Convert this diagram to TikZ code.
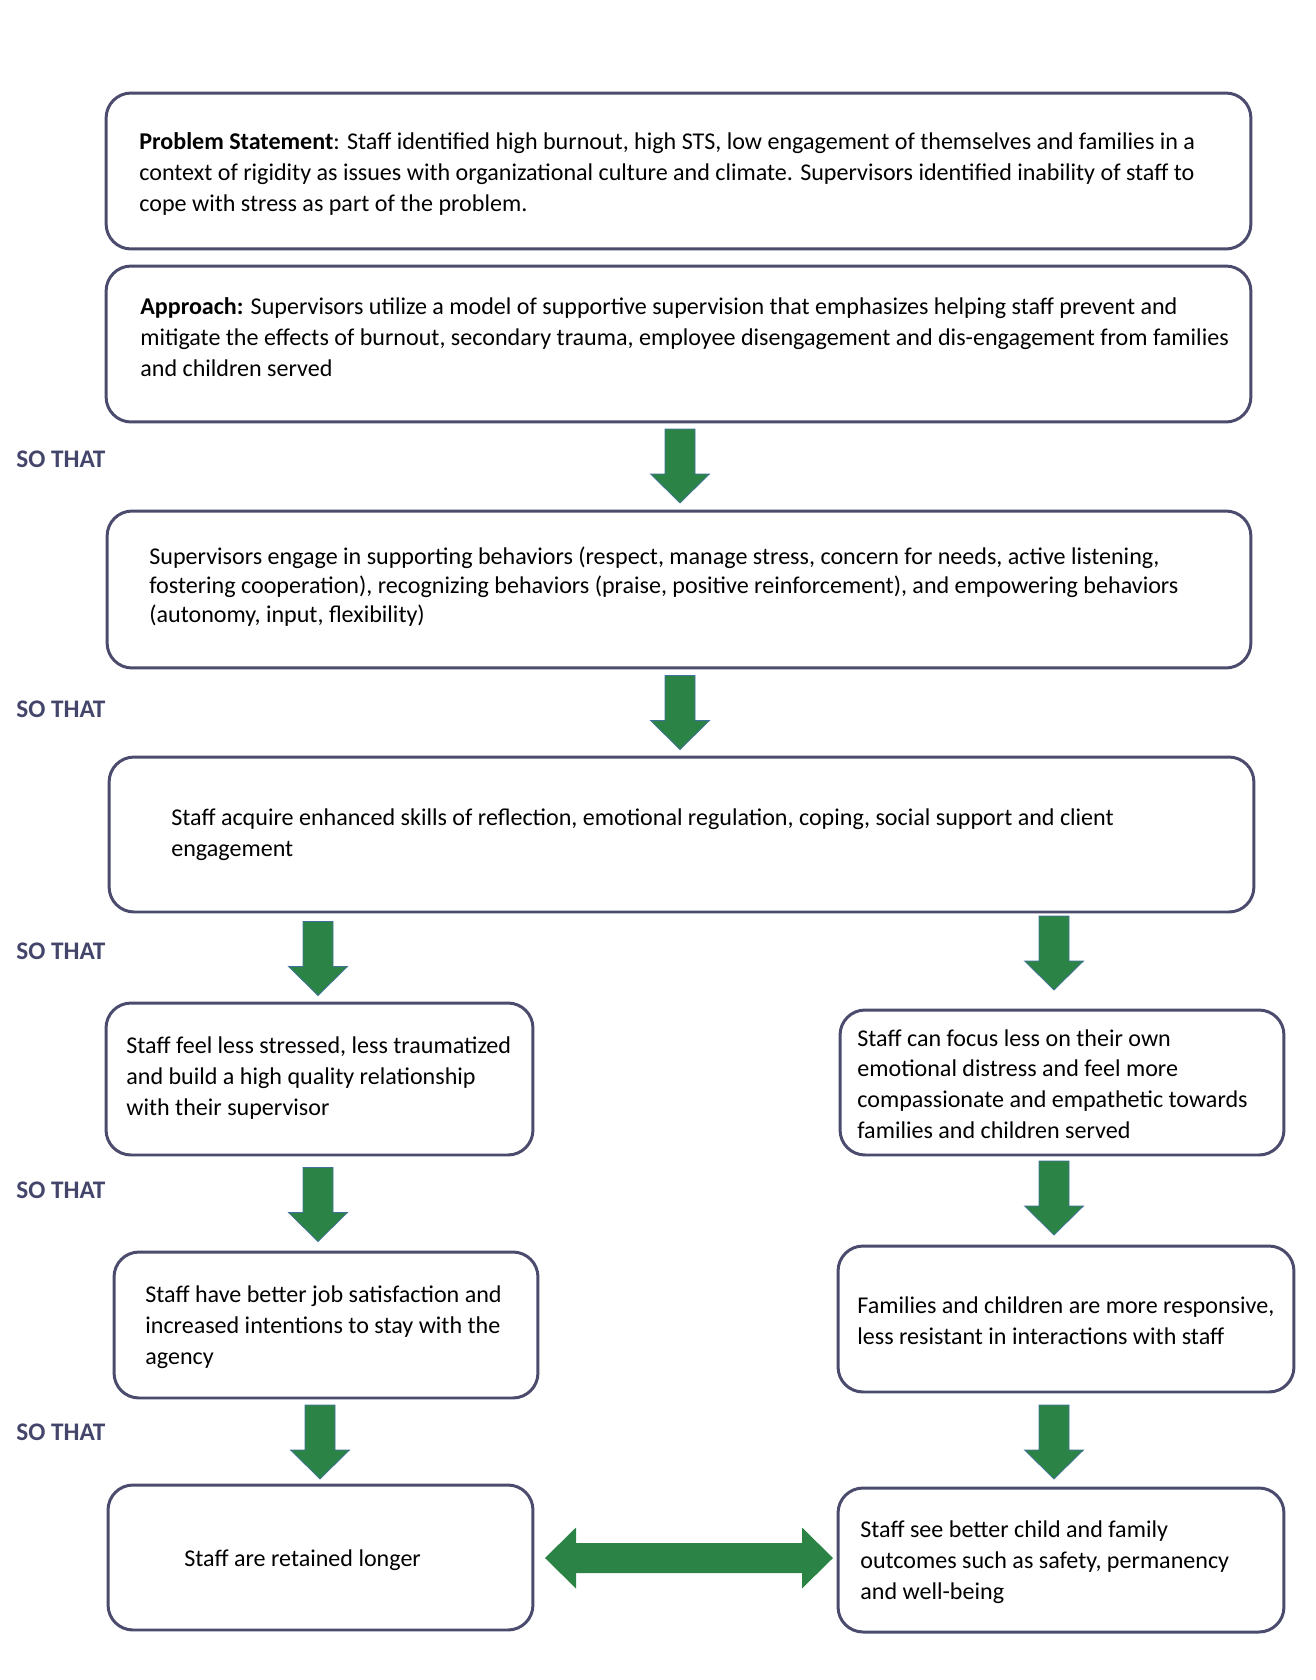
\documentclass[tikz,border=0pt]{standalone}
\usepackage{fontspec}
\setmainfont{Carlito}
\definecolor{boxborder}{HTML}{4B4B6D}
\definecolor{sothatblue}{HTML}{44456A}
\definecolor{arrowgreen}{HTML}{2B8446}
\definecolor{arrowedge}{HTML}{41719C}

\begin{document}
\begin{tikzpicture}[x = 0.02cm, y = -0.02cm,
    box/.style = {draw = boxborder, line width = 1.7pt, rounded corners = 0.5cm, inner sep = 0pt},
    txt/.style = {anchor = west, inner sep = 0pt, align = left, font = \fontsize{13.7pt}{17.5pt}\selectfont},
    sothat/.style = {anchor = west, inner sep = 0pt, text = sothatblue, font = \fontsize{14.4pt}{17pt}\selectfont\bfseries},
    downarrow/.pic = {
      \fill[arrowgreen, draw = arrowedge, line width = 0.4pt] (-15, -37) -- (15, -37) -- (15, 8) -- (29.5, 8) -- (0, 37) -- (-29.5, 8) -- (-15, 8) -- cycle;
    },
    bothways/.pic = {
      \fill[arrowgreen] (-144, 0) -- (-113, -30.5) -- (-113, -15) -- (113, -15) -- (113, -30.5) -- (144, 0) -- (113, 30.5) -- (113, 15) -- (-113, 15) -- (-113, 30.5) -- cycle;
    }]%
    \useasboundingbox (0, 0) rectangle (1315, 1680);

    % boxes
    \node[box, minimum width = 22.9cm, minimum height = 3.12cm] (problem) at (678.5, 171) {};
    \node[box, minimum width = 22.9cm, minimum height = 3.12cm] (approach) at (678.5, 344) {};
    \node[box, minimum width = 22.88cm, minimum height = 3.14cm] (behaviors) at (679, 589.5) {};
    \node[box, minimum width = 22.9cm, minimum height = 3.1cm] (skills) at (681.5, 834.5) {};
    \node[box, minimum width = 8.54cm, minimum height = 3.04cm] (stress) at (319.5, 1079) {};
    \node[box, minimum width = 8.88cm, minimum height = 2.9cm] (focus) at (1062, 1082.5) {};
    \node[box, minimum width = 8.48cm, minimum height = 2.92cm] (satisfaction) at (326, 1325) {};
    \node[box, minimum width = 9.12cm, minimum height = 2.92cm] (responsive) at (1066, 1319) {};
    \node[box, minimum width = 8.5cm, minimum height = 2.9cm] (retained) at (320.5, 1557.5) {};
    \node[box, minimum width = 8.92cm, minimum height = 2.88cm] (outcomes) at (1061, 1560) {};

    % texts
    \node[txt] (problemtext) at (139, 174) {\textbf{Problem Statement}: Staff identified high burnout, high STS, low engagement of themselves and families in a\\context of rigidity as issues with organizational culture and climate. Supervisors identified inability of staff to\\cope with stress as part of the problem.};
    \node[txt] (approachtext) at (140, 337) {\textbf{Approach:} Supervisors utilize a model of supportive supervision that emphasizes helping staff prevent and\\mitigate the effects of burnout, secondary trauma, employee disengagement and dis-engagement from families\\and children served};
    \node[txt, font = \fontsize{13.7pt}{16.5pt}\selectfont] (behaviorstext) at (149, 587) {Supervisors engage in supporting behaviors (respect, manage stress, concern for needs, active listening,\\fostering cooperation), recognizing behaviors (praise, positive reinforcement), and empowering behaviors\\(autonomy, input, flexibility)};
    \node[txt] (skillstext) at (171, 835) {Staff acquire enhanced skills of reflection, emotional regulation, coping, social support and client\\engagement};
    \node[txt] (stresstext) at (126, 1078) {Staff feel less stressed, less traumatized\\and build a high quality relationship\\with their supervisor};
    \node[txt] (focustext) at (857, 1084) {Staff can focus less on their own\\emotional distress and feel more\\compassionate and empathetic towards\\families and children served};
    \node[txt] (satisfactiontext) at (145, 1327) {Staff have better job satisfaction and\\increased intentions to stay with the\\agency};
    \node[txt] (responsivetext) at (857, 1321) {Families and children are more responsive,\\less resistant in interactions with staff};
    \node[txt] (retainedtext) at (184, 1560) {Staff are retained longer};
    \node[txt] (outcomestext) at (860, 1562) {Staff see better child and family\\outcomes such as safety, permanency\\and well-being};

    % so that
    \node[sothat] (sothat1) at (16, 459) {SO THAT};
    \node[sothat] (sothat2) at (16, 709) {SO THAT};
    \node[sothat] (sothat3) at (16, 951) {SO THAT};
    \node[sothat] (sothat4) at (16, 1190) {SO THAT};
    \node[sothat] (sothat5) at (16, 1432) {SO THAT};

    % arrows
    \pic (arrow1) at (680, 466) {downarrow};
    \pic (arrow2) at (680, 712.5) {downarrow};
    \pic (arrow3l) at (318, 958.5) {downarrow};
    \pic (arrow3r) at (1054, 953) {downarrow};
    \pic (arrow4l) at (318, 1204.5) {downarrow};
    \pic (arrow4r) at (1054, 1198) {downarrow};
    \pic (arrow5l) at (320, 1442) {downarrow};
    \pic (arrow5r) at (1054, 1442) {downarrow};
    \pic (link) at (689, 1558) {bothways};
  \end{tikzpicture}
\end{document}
